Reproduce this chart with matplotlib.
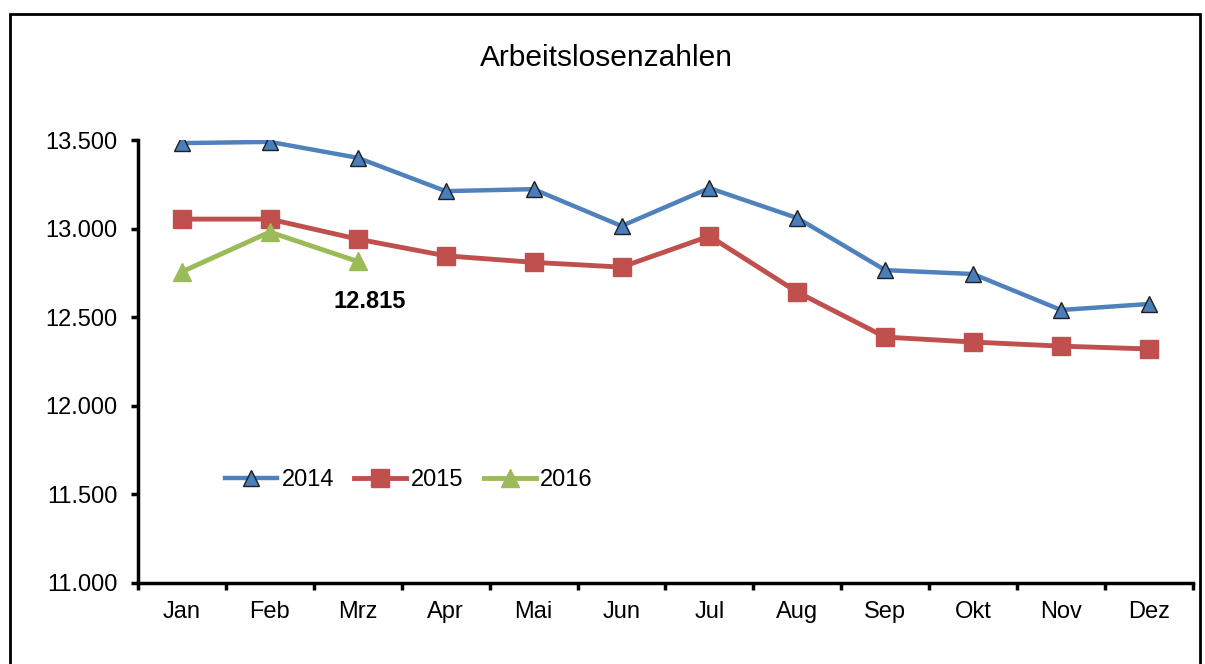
import matplotlib
matplotlib.use("Agg")
import matplotlib.pyplot as plt
from matplotlib.patches import Rectangle
from matplotlib.ticker import FuncFormatter
import numpy as np

plt.rcParams['font.family'] = ['Liberation Sans', 'DejaVu Sans']

# Daten
monate = ["Jan", "Feb", "Mrz", "Apr", "Mai", "Jun", "Jul", "Aug", "Sep", "Okt", "Nov", "Dez"]
werte_2014 = [13483, 13490, 13400, 13212, 13223, 13015, 13229, 13060, 12766, 12744, 12541, 12575]
werte_2015 = [13054, 13054, 12941, 12847, 12810, 12783, 12958, 12642, 12388, 12360, 12337, 12321]
werte_2016 = [12757, 12981, 12815]

fig = plt.figure(figsize=(12.05, 6.64), dpi=100)
ax = fig.add_axes([0.1145, 0.122, 0.8755, 0.667])

x = np.arange(len(monate))
ax.plot(x, werte_2014, color="#4F81BD", lw=3.2, marker="^", ms=11,
        mfc="#4A7EBB", mec="#1F1F1F", mew=1, label="2014", zorder=3)
ax.plot(x, werte_2015, color="#C0504D", lw=3.5, marker="s", ms=13,
        mfc="#C0504D", mec="#C0504D", label="2015", zorder=3)
x16 = np.arange(len(werte_2016))
ax.plot(x16, werte_2016, color="#9BBB59", lw=3.5, marker="^", ms=13,
        mfc="#9BBB59", mec="#9BBB59", label="2016", zorder=4)

ax.annotate("12.815", (x16[-1], werte_2016[-1]), xytext=(8.6, -28.5),
            textcoords="offset points", ha="center", va="center",
            fontsize=17, fontweight="bold")

ax.set_xlim(-0.5, len(monate) - 0.5)
ax.set_ylim(11000, 13500)
ax.set_yticks(np.arange(11000, 13501, 500))
ax.yaxis.set_major_formatter(FuncFormatter(lambda v, p: f"{v:,.0f}".replace(",", ".")))
ax.set_xticks(x)
ax.set_xticklabels(monate)
ax.set_xticks(np.arange(-0.5, len(monate), 1), minor=True)
ax.tick_params(axis="x", which="major", length=0, pad=13, labelsize=17)
ax.tick_params(axis="x", which="minor", length=5, width=2.5, direction="out")
ax.tick_params(axis="y", length=5, width=2.5, direction="out", labelsize=17, pad=10)

for s in ["top", "right"]:
    ax.spines[s].set_visible(False)
for s in ["left", "bottom"]:
    ax.spines[s].set_linewidth(2.5)

ax.legend(loc="center", bbox_to_anchor=(0.257, 0.2325), ncol=3, frameon=False,
          fontsize=17, handlelength=2.2, handletextpad=0.2, columnspacing=0.85)

fig.text(0.503, 0.912, "Arbeitslosenzahlen", ha="center", va="center", fontsize=21.5)

rahmen = Rectangle((0.0083, -0.05), 0.9877, 0.979 + 0.05, transform=fig.transFigure,
                   fill=False, lw=2, ec="black")
fig.patches.append(rahmen)

fig.savefig("out.png", dpi=100)
